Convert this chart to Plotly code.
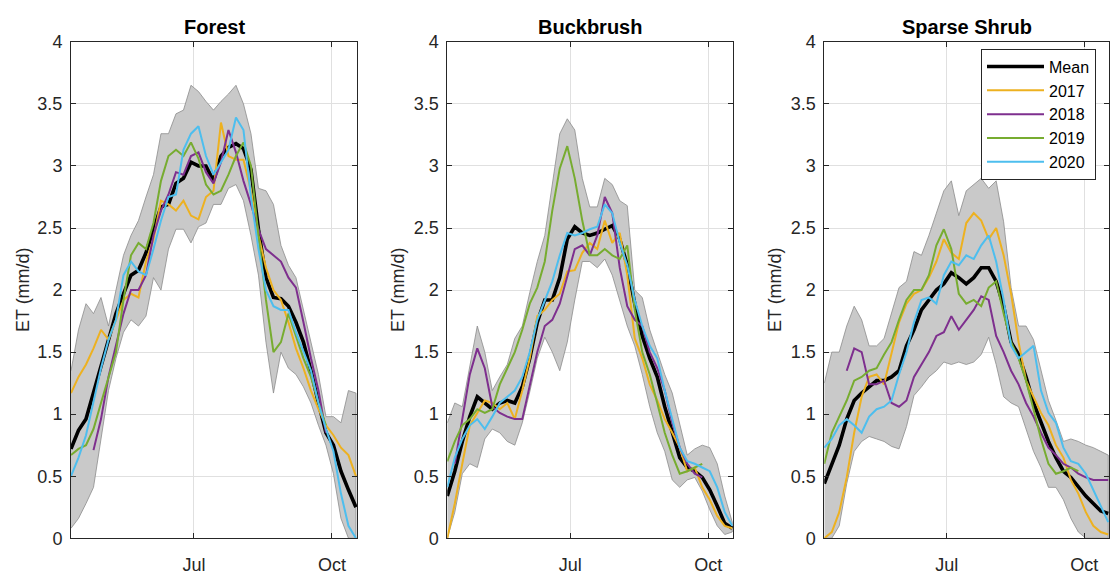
import plotly.graph_objects as go
import pandas as pd

# ---------------- data (day-of-year grid, every 5 days) ----------------
DOY = list(range(100, 291, 5))
DATES = [pd.Timestamp("2021-01-01") + pd.Timedelta(days=d - 1) for d in DOY]

N = None
FOREST_MEAN = [0.72, 0.87, 0.96, 1.17, 1.37, 1.60, 1.81, 1.97, 2.12, 2.16,
               2.30, 2.49, 2.67, 2.69, 2.86, 2.90, 3.03, 3.00, 3.00, 2.88,
               3.08, 3.15, 3.18, 3.14, 2.97, 2.49, 2.10, 1.94, 1.93, 1.87,
               1.74, 1.58, 1.35, 1.09, 0.85, 0.75, 0.54, 0.39, 0.25]
FOREST_2017 = [1.17, 1.30, 1.40, 1.53, 1.68, 1.60, 1.76, 1.92, 1.97, 1.94,
               2.23, 2.41, 2.72, 2.69, 2.64, 2.72, 2.60, 2.57, 2.75, 2.80,
               3.35, 3.08, 3.05, 3.05, 2.80, 2.44, 2.18, 2.00, 1.92, 1.74,
               1.53, 1.37, 1.19, 1.04, 0.91, 0.83, 0.73, 0.67, 0.50]
FOREST_2018 = [N, N, N, 0.71, 0.96, 1.30, 1.55, 1.81, 2.00, 2.00,
               2.12, 2.44, 2.64, 2.77, 2.95, 2.93, 3.08, 3.11, 2.95, 2.86,
               3.03, 3.29, 3.11, 2.88, 2.69, 2.49, 2.33, 2.28, 2.23, 2.10,
               2.02, 1.74, 1.45, 1.19, 0.85, N, N, N, N]
FOREST_2019 = [0.67, 0.72, 0.75, 0.88, 1.09, 1.30, 1.50, 1.92, 2.28, 2.38,
               2.33, 2.54, 2.88, 3.08, 3.13, 3.08, 3.19, 3.06, 2.85, 2.77,
               2.80, 2.93, 3.08, 3.19, 3.00, 2.44, 1.92, 1.50, 1.58, 1.81,
               1.63, 1.45, 1.30, 1.09, 0.91, N, N, N, N]
FOREST_2020 = [0.50, 0.65, 0.83, 1.11, 1.37, 1.60, 1.76, 2.12, 2.23, 2.15,
               2.12, 2.33, 2.56, 2.75, 2.77, 3.13, 3.26, 3.32, 3.08, 2.93,
               3.03, 3.13, 3.39, 3.29, 2.75, 2.33, 2.00, 1.87, 1.84, 1.84,
               1.66, 1.50, 1.35, 1.09, 0.88, 0.70, 0.36, 0.10, 0.00]
FOREST_UPPER = [1.35, 1.68, 1.89, 1.81, 1.94, 1.71, 2.00, 2.28, 2.44, 2.56,
                2.75, 2.93, 3.26, 3.26, 3.42, 3.45, 3.65, 3.60, 3.52, 3.45,
                3.52, 3.58, 3.65, 3.50, 3.26, 2.82, 2.80, 2.69, 2.36, 2.20,
                2.10, 1.84, 1.58, 1.32, 0.98, 0.98, 0.93, 1.19, 1.17]
FOREST_LOWER = [0.08, 0.16, 0.28, 0.41, 0.80, 1.19, 1.45, 1.66, 1.76, 1.71,
                1.79, 2.10, 2.00, 2.33, 2.49, 2.49, 2.38, 2.51, 2.54, 2.69,
                2.69, 2.82, 2.85, 2.72, 2.44, 2.12, 1.58, 1.17, 1.50, 1.37,
                1.32, 1.22, 1.09, 0.91, 0.75, 0.52, 0.16, 0.00, 0.00]

BUCK_MEAN = [0.34, 0.54, 0.78, 0.98, 1.14, 1.09, 1.04, 1.09, 1.11, 1.09,
             1.22, 1.45, 1.74, 1.92, 1.92, 2.10, 2.41, 2.51, 2.46, 2.44,
             2.46, 2.49, 2.52, 2.41, 2.20, 1.89, 1.63, 1.45, 1.30, 1.06,
             0.85, 0.65, 0.57, 0.54, 0.49, 0.39, 0.26, 0.12, 0.08]
BUCK_2017 = [0.00, 0.28, 0.60, 0.91, 1.01, 1.11, 1.09, 1.04, 1.09, 0.96,
             1.19, 1.45, 1.79, 1.84, 1.92, 1.97, 2.15, 2.16, 2.30, 2.38,
             2.33, 2.56, 2.38, 2.46, 2.12, 1.61, 1.45, 1.24, 1.11, 0.96,
             0.85, 0.73, 0.54, 0.57, 0.41, 0.31, 0.18, 0.10, 0.08]
BUCK_2018 = [N, 0.60, 0.95, 1.32, 1.53, 1.37, 1.06, 1.01, 0.98, 0.96,
             0.96, 1.24, 1.50, 1.71, 1.76, 1.89, 2.10, 2.33, 2.36, 2.28,
             2.44, 2.75, 2.62, 2.18, 1.87, 1.76, 1.71, 1.50, 1.37, 1.19,
             0.93, 0.73, 0.60, 0.52, 0.49, N, N, N, N]
BUCK_2019 = [0.62, 0.78, 0.91, 0.96, 1.04, 1.01, 1.04, 1.24, 1.37, 1.50,
             1.68, 1.89, 2.02, 2.23, 2.64, 2.98, 3.16, 2.90, 2.56, 2.28,
             2.28, 2.33, 2.28, 2.25, 2.36, 1.84, 1.50, 1.32, 1.09, 0.85,
             0.67, 0.52, 0.54, 0.57, 0.60, N, N, N, N]
BUCK_2020 = [0.41, 0.65, 0.80, 0.91, 0.96, 0.88, 0.98, 1.09, 1.14, 1.19,
             1.30, 1.50, 1.76, 1.92, 2.07, 2.28, 2.46, 2.44, 2.46, 2.49,
             2.51, 2.69, 2.62, 2.38, 2.20, 1.92, 1.71, 1.55, 1.45, 1.19,
             0.96, 0.73, 0.62, 0.60, 0.57, 0.54, 0.41, 0.21, 0.10]
BUCK_UPPER = [0.93, 1.09, 1.06, 1.38, 1.71, 1.50, 1.19, 1.30, 1.40, 1.61,
              1.71, 1.98, 2.23, 2.44, 2.85, 3.26, 3.38, 3.29, 2.90, 2.67,
              2.67, 2.90, 2.85, 2.72, 2.68, 2.00, 1.94, 1.68, 1.50, 1.32,
              1.17, 0.93, 0.67, 0.72, 0.75, 0.73, 0.60, 0.34, 0.13]
BUCK_LOWER = [0.00, 0.21, 0.52, 0.60, 0.57, 0.80, 0.88, 0.85, 0.78, 0.75,
              0.93, 1.18, 1.45, 1.62, 1.50, 1.35, 1.58, 1.92, 2.23, 2.23,
              2.18, 2.25, 2.12, 1.92, 1.71, 1.55, 1.32, 1.06, 0.85, 0.70,
              0.47, 0.41, 0.47, 0.49, 0.38, 0.23, 0.10, 0.03, 0.05]

SPARSE_MEAN = [0.44, 0.60, 0.75, 0.96, 1.11, 1.17, 1.22, 1.27, 1.27, 1.30,
               1.35, 1.55, 1.68, 1.84, 1.92, 2.00, 2.05, 2.14, 2.10, 2.05,
               2.10, 2.18, 2.18, 2.07, 1.87, 1.58, 1.48, 1.30, 1.09, 0.93,
               0.78, 0.65, 0.54, 0.49, 0.41, 0.34, 0.28, 0.22, 0.20]
SPARSE_2017 = [0.00, 0.05, 0.21, 0.49, 0.85, 1.14, 1.30, 1.32, 1.24, 1.50,
               1.74, 1.89, 1.97, 2.00, 2.10, 2.23, 2.41, 2.30, 2.25, 2.54,
               2.62, 2.56, 2.41, 2.50, 2.28, 1.97, 1.58, 1.27, 1.14, 1.01,
               0.91, 0.75, 0.65, 0.47, 0.36, 0.21, 0.10, 0.05, 0.03]
SPARSE_2018 = [N, N, N, 1.35, 1.53, 1.50, 1.24, 1.24, 1.27, 1.09,
               1.06, 1.11, 1.30, 1.40, 1.50, 1.63, 1.66, 1.79, 1.68, 1.76,
               1.84, 1.95, 1.92, 1.63, 1.50, 1.35, 1.24, 1.09, 0.98, 0.85,
               0.73, 0.67, 0.60, 0.57, 0.52, 0.49, 0.47, 0.47, 0.47]
SPARSE_2019 = [0.60, 0.85, 0.98, 1.11, 1.27, 1.30, 1.35, 1.37, 1.48, 1.58,
               1.76, 1.92, 2.00, 2.00, 2.12, 2.36, 2.49, 2.33, 1.97, 1.89,
               1.92, 1.87, 2.02, 2.07, 1.81, 1.58, 1.45, 1.27, 1.04, 0.80,
               0.60, 0.52, 0.54, 0.57, 0.54, N, N, N, N]
SPARSE_2020 = [0.73, 0.80, 0.91, 0.96, 0.91, 0.85, 0.98, 1.04, 1.06, 1.11,
               1.32, 1.50, 1.74, 1.92, 1.94, 1.89, 2.12, 2.23, 2.20, 2.28,
               2.25, 2.36, 2.44, 2.23, 1.92, 1.55, 1.45, 1.50, 1.55, 1.19,
               1.01, 0.93, 0.73, 0.62, 0.60, 0.52, 0.39, 0.26, 0.13]
SPARSE_UPPER = [1.25, 1.50, 1.50, 1.71, 1.87, 1.76, 1.55, 1.55, 1.61, 1.81,
                2.02, 2.07, 2.31, 2.28, 2.44, 2.62, 2.80, 2.88, 2.60, 2.80,
                2.85, 2.90, 2.82, 2.88, 2.55, 2.02, 1.71, 1.71, 1.60, 1.35,
                1.11, 0.95, 0.78, 0.80, 0.78, 0.75, 0.73, 0.70, 0.67]
SPARSE_LOWER = [0.00, 0.00, 0.10, 0.44, 0.70, 0.78, 0.82, 0.80, 0.78, 0.74,
                0.72, 0.90, 1.15, 1.22, 1.30, 1.35, 1.42, 1.40, 1.42, 1.40,
                1.42, 1.48, 1.62, 1.40, 1.14, 1.09, 1.06, 0.88, 0.70, 0.57,
                0.41, 0.41, 0.31, 0.16, 0.05, 0.00, 0.00, 0.00, 0.00]

PANEL_TITLES = ["Forest", "Buckbrush", "Sparse Shrub"]
SERIES_NAMES = ["Mean", "2017", "2018", "2019", "2020"]
Y_TICKS = [0, 0.5, 1, 1.5, 2, 2.5, 3, 3.5, 4]
Y_TICK_TEXT = ["0", "0.5", "1", "1.5", "2", "2.5", "3", "3.5", "4"]
X_TICKS = ["2021-07-01", "2021-10-01"]
X_TICK_TEXT = ["Jul", "Oct"]

PANELS = [
    (FOREST_UPPER, FOREST_LOWER, [FOREST_MEAN, FOREST_2017, FOREST_2018, FOREST_2019, FOREST_2020]),
    (BUCK_UPPER, BUCK_LOWER, [BUCK_MEAN, BUCK_2017, BUCK_2018, BUCK_2019, BUCK_2020]),
    (SPARSE_UPPER, SPARSE_LOWER, [SPARSE_MEAN, SPARSE_2017, SPARSE_2018, SPARSE_2019, SPARSE_2020]),
]

# ---------------- styling ----------------
COLORS = ["#000000", "#EDB120", "#7E2F8E", "#77AC30", "#4DBEEE"]
WIDTHS = [3.6, 2.0, 2.0, 2.0, 2.0]
FONT = "Liberation Sans, Arial, sans-serif"
W, H = 1112, 583
X_DOMAINS = [(71 / W, 357 / W), (447.3 / W, 733.3 / W), (824.3 / W, 1109.3 / W)]
Y_DOMAIN = (1 - 547 / H, 1 - 33 / H)
YLABEL_X = [23 / W, 398 / W, 775 / W]

fig = go.Figure()

for i, (upper, lower, series) in enumerate(PANELS):
    ax = "" if i == 0 else str(i + 1)
    # shaded envelope
    fig.add_trace(go.Scatter(
        x=DATES + DATES[::-1], y=upper + lower[::-1],
        fill="toself", fillcolor="#c9c9c9",
        line=dict(color="#8c8c8c", width=0.8),
        mode="lines", showlegend=False, hoverinfo="skip",
        xaxis="x" + ax, yaxis="y" + ax))
    for j, vals in enumerate(series):
        fig.add_trace(go.Scatter(
            x=DATES, y=vals, mode="lines", name=SERIES_NAMES[j],
            line=dict(color=COLORS[j], width=WIDTHS[j]),
            connectgaps=False, showlegend=(i == 2),
            xaxis="x" + ax, yaxis="y" + ax))

layout = dict(
    width=W, height=H,
    margin=dict(l=0, r=0, t=0, b=0),
    paper_bgcolor="white", plot_bgcolor="white",
    font=dict(family=FONT, size=18, color="#262626"),
    showlegend=True,
    legend=dict(
        x=1096 / W, xanchor="right", y=1 - 40 / H, yanchor="top",
        bgcolor="white", bordercolor="#262626", borderwidth=1,
        font=dict(size=16, color="#000000"), itemwidth=57,
        tracegroupgap=0),
    annotations=[],
)

for i in range(3):
    ax = "" if i == 0 else str(i + 1)
    layout["xaxis" + ax] = dict(
        domain=list(X_DOMAINS[i]), anchor="y" + ax, type="date",
        range=["2021-04-10", "2021-10-17 17:00"],
        tickvals=X_TICKS, ticktext=X_TICK_TEXT,
        showgrid=True, gridcolor="#e0e0e0", gridwidth=1,
        showline=True, linecolor="#262626", linewidth=1, mirror="ticks",
        ticks="inside", ticklen=5, tickcolor="#262626",
        ticklabelstandoff=10, zeroline=False)
    layout["yaxis" + ax] = dict(
        domain=list(Y_DOMAIN), anchor="x" + ax, range=[0, 4],
        tickvals=Y_TICKS, ticktext=Y_TICK_TEXT,
        showgrid=True, gridcolor="#e0e0e0", gridwidth=1,
        showline=True, linecolor="#262626", linewidth=1, mirror="ticks",
        ticks="inside", ticklen=5, tickcolor="#262626",
        ticklabelstandoff=4, zeroline=False)
    cx = (X_DOMAINS[i][0] + X_DOMAINS[i][1]) / 2
    layout["annotations"].append(dict(
        text="<b>" + PANEL_TITLES[i] + "</b>", x=cx, y=1 - 18 / H,
        xref="paper", yref="paper", xanchor="center", yanchor="middle",
        showarrow=False, font=dict(size=20, color="#000000", family=FONT)))
    layout["annotations"].append(dict(
        text="ET (mm/d)", x=YLABEL_X[i], y=(Y_DOMAIN[0] + Y_DOMAIN[1]) / 2,
        xref="paper", yref="paper", xanchor="center", yanchor="middle",
        textangle=-90, showarrow=False,
        font=dict(size=18, color="#262626", family=FONT)))

fig.update_layout(**layout)
fig.write_html("out.html")
